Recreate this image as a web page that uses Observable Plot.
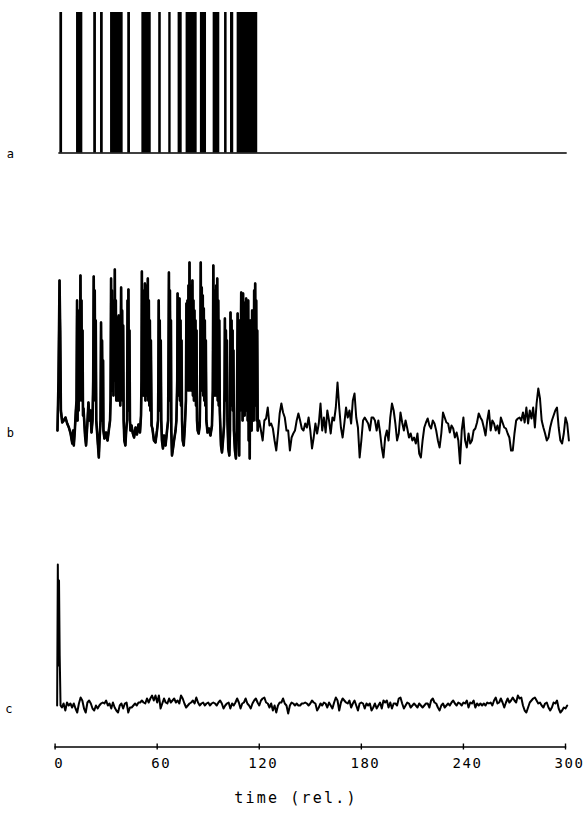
<!DOCTYPE html>
<html>
<head>
<meta charset="utf-8">
<script src="https://cdn.jsdelivr.net/npm/d3@7"></script>
<script src="https://cdn.jsdelivr.net/npm/@observablehq/plot@0.6"></script>
<style>
  html, body { margin: 0; padding: 0; background: #fff; }
  #chart { position: relative; width: 587px; height: 817px; font-family: "DejaVu Sans Mono", monospace; color: #000; }
  #chart svg { display: block; }
  #caption { position: absolute; left: 0; width: 592px; top: 789px; text-align: center; font-size: 15px; letter-spacing: 2.2px; line-height: 18px; }
</style>
</head>
<body>
<div id="chart"><div id="caption">time (rel.)</div></div>
<script>
// ---------- data ----------
const timeTicks = [0, 60, 120, 180, 240, 300];
const panelNames = ["a", "b", "c"];
const xLabel = "time (rel.)";

// panel a: spike train, intervals where the recorder pen is up (bursts)
const recordStart = 2.2, recordEnd = 301;
const burstOn  = [2.8, 12.6, 22.7, 26.7, 32.6, 42.7, 51.0, 60.9, 66.8, 72.3, 77.0, 85.4, 92.9, 99.6, 103.1, 107.0];
const burstOff = [4.4, 16.3, 24.3, 28.3, 40.0, 44.3, 56.5, 62.4, 68.2, 74.7, 83.5, 89.0, 96.8, 101.1, 105.0, 119.1];

// panel b: spiking section (time, amplitude)
const bT = [1.4,2.0,2.6,3.0,3.4,4.2,5.1,6.1,7.1,8.1,9.1,10.1,10.6,11.0,11.6,12.2,
  12.6,12.9,13.2,13.5,13.8,14.2,14.5,14.9,15.2,15.5,15.8,16.1,16.4,
  16.7,17.6,18.2,18.9,19.6,20.2,20.8,21.4,22.0,
  22.4,22.7,23.0,23.3,23.6,23.9,24.2,
  24.6,25.2,25.7,26.1,
  26.7,27.0,27.3,27.6,27.9,28.2,28.4,
  29.0,29.9,30.8,31.7,32.3,
  32.6,32.9,33.1,33.4,33.7,34.0,34.3,34.6,34.9,35.1,35.4,35.7,36.0,36.3,36.6,36.8,37.1,37.4,37.7,38.0,38.3,38.8,39.1,39.4,39.7,40.0,40.3,
  40.7,41.3,41.8,42.3,
  42.6,42.8,43.1,43.4,43.7,44.0,44.3,
  44.9,45.7,46.4,47.3,48.1,49.0,49.9,50.5,
  50.8,51.0,51.3,51.6,51.9,52.2,52.5,52.8,53.1,53.4,53.7,54.0,54.2,54.5,54.8,55.1,55.4,55.7,56.0,56.3,56.7,
  57.2,58.1,59.0,59.9,60.5,
  60.7,60.9,61.2,61.5,61.8,62.1,62.4,
  62.8,63.4,64.0,64.9,65.8,66.4,
  66.6,66.9,67.2,67.5,67.8,68.1,68.3,
  68.7,69.3,69.9,70.8,71.3,
  71.8,72.0,72.2,72.5,72.8,73.1,73.4,73.7,74.0,74.3,74.6,
  75.0,75.6,76.3,
  76.9,77.2,77.5,77.8,78.1,78.4,78.7,79.0,79.3,79.6,79.9,80.2,80.5,80.7,81.0,81.3,81.6,81.9,82.2,82.5,82.8,83.1,83.4,
  83.8,84.4,85.0,
  85.3,85.6,85.9,86.2,86.5,86.8,87.1,87.4,87.7,88.0,88.3,88.6,88.9,
  89.6,90.4,91.3,92.2,
  92.7,93.0,93.3,93.6,93.9,94.1,94.4,94.7,95.0,95.3,95.6,95.9,96.2,96.5,96.8,97.1,
  97.5,98.1,98.7,99.3,
  99.6,99.8,100.1,100.4,100.7,101.0,101.3,
  101.8,102.4,102.8,
  103.1,103.4,103.7,104.0,104.3,104.5,104.8,105.1,
  105.7,106.3,106.8,
  107.3,107.6,107.9,108.2,108.5,108.8,109.4,109.7,110.0,110.2,110.5,110.8,111.1,111.4,111.7,112.0,112.3,112.6,112.9,113.2,113.5,113.8,114.1,114.4,114.7,114.9,115.2,115.5,115.8,116.1,116.4,116.7,117.0,117.3,117.6,117.9,118.2,118.5,118.8,119.1];
const bV = [0,50,150,100,20,8,10,13,7,3,-3,-13,0,-15,0,20,
  30,130,10,120,20,100,30,155,40,130,30,100,15,
  22,-5,-15,5,28,10,20,-2,10,
  50,154,50,140,30,110,10,
  0,-15,-27,-10,
  10,108,20,90,10,70,0,
  -8,-2,-10,2,10,
  30,152,40,140,50,120,35,130,60,161,50,130,30,100,40,113,30,115,35,110,25,143,40,120,30,105,10,
  -10,-15,0,10,
  130,30,141,20,100,10,0,
  5,-3,-7,3,-4,6,-2,15,
  50,159,40,130,35,140,45,147,30,145,35,130,40,152,30,130,25,110,20,90,5,
  2,-10,-12,0,10,
  50,130,30,110,20,90,10,
  -10,-18,-5,-15,0,10,
  50,158,40,140,30,110,0,
  -25,-18,-10,0,10,
  50,137,40,120,35,132,30,110,25,90,10,
  -10,-15,5,
  30,127,40,130,45,145,40,168,50,135,40,145,45,150,35,130,30,120,35,110,25,100,10,
  0,-3,5,
  40,168,50,143,40,135,35,122,30,110,25,90,10,
  -2,2,-5,5,
  40,165,45,140,35,130,40,145,35,152,30,130,25,110,20,5,
  -15,-22,-10,5,
  40,112,35,100,30,90,10,
  -18,-25,0,
  118,30,110,25,100,20,80,0,
  -20,-28,0,
  117,10,100,-25,110,20,138,30,120,10,137,20,128,15,110,25,132,20,125,10,130,-10,110,-28,110,10,90,0,120,20,100,10,140,30,147,25,130,10,100,0];

// panel b: quiet section, one sample per time unit from t = 120
const bNoiseStart = 120;
const bNoise = [10,0,-10,10,12,23,5,7,2,-10,-20,-3,17,27,18,13,0,0,-20,-7,-3,0,10,17,10,2,0,7,3,13,0,-18,-7,7,-3,7,27,0,13,-2,20,10,-3,13,10,23,48,23,3,-7,7,23,13,20,7,30,37,13,3,-27,-10,10,13,10,7,0,13,13,10,0,10,-2,-17,-27,-7,0,-10,13,27,20,7,-10,-3,18,8,0,10,2,-7,-3,-10,-7,-13,-3,-23,-27,-10,3,8,12,5,2,10,7,0,-10,-17,-3,18,13,8,7,-2,5,2,-7,-2,-10,-33,0,13,-10,-17,-3,-13,-10,0,2,8,17,13,10,3,-5,10,20,0,10,7,0,5,-3,13,8,3,2,-3,-7,-20,-20,-3,10,12,13,10,18,8,23,7,20,12,23,3,27,42,32,10,3,-3,-10,-7,3,10,15,20,23,3,-10,-13,-3,13,7,-10];

// panel c: single response at onset, then baseline noise from t = 4
const cHeadT = [1.2, 1.6, 2.0, 2.3, 2.7, 3.2];
const cHeadV = [0, 141, 40, 125, 50, 0];
const cNoiseStart = 4;
const cNoise = [-2,2,-5,3,0,2,-2,2,-3,-7,2,8,5,-3,-7,3,5,2,-3,-5,0,-3,0,2,3,2,5,0,2,-3,3,-2,-5,-7,0,2,-3,2,3,-7,-2,-2,0,2,0,3,3,5,3,2,7,3,7,10,5,10,3,10,-3,2,7,3,2,7,3,5,7,3,5,2,10,7,2,-2,0,2,3,5,2,8,3,0,2,3,0,2,3,0,2,3,2,0,3,5,2,-3,0,2,3,-3,2,0,3,7,3,-3,2,3,7,2,0,-3,2,5,7,3,0,5,7,8,3,2,-2,2,-5,0,-7,0,3,3,7,2,0,-8,0,3,2,0,2,0,0,
  2,2,3,2,0,2,5,3,2,-5,-2,2,0,3,2,-2,3,0,-3,3,8,5,-5,3,7,5,3,2,5,-2,2,5,0,-5,2,3,2,-3,2,0,2,-5,-2,2,-3,0,3,-3,5,3,5,-2,3,-3,2,2,0,7,8,2,-3,0,3,2,-2,0,2,0,-2,2,0,-2,0,2,2,-2,5,7,3,2,-2,-5,0,2,-2,0,2,0,3,5,2,0,3,2,0,3,2,5,-2,3,2,5,-2,2,0,2,0,2,0,3,2,3,0,5,8,2,3,7,3,-2,3,7,3,5,8,5,3,10,7,8,0,-5,-7,-2,3,5,7,8,5,2,3,0,-2,2,3,-2,-5,-2,3,2,5,-3,-7,-5,-2,-3,0];

// ---------- build tables ----------
const aRows = burstOn.map((on, i) => ({on, off: burstOff[i]}));
const bSpikeRows = bT.map((t, i) => ({t, v: bV[i]}));
const bRows = bSpikeRows.concat(bNoise.map((v, i) => ({t: bNoiseStart + i, v})));
const cRows = cHeadT.map((t, i) => ({t, v: cHeadV[i]}))
  .concat(cNoise.map((v, i) => ({t: cNoiseStart + i, v})));

const FONT = "DejaVu Sans Mono";
const base = {
  width: 587,
  marginLeft: 54.6,
  marginRight: 22,
  style: {fontFamily: FONT, background: "white", overflow: "visible"}
};
const panelLabel = (name, dy) => Plot.axisY({
  ticks: [0], tickFormat: () => name, tickSize: 0, tickPadding: 41,
  label: null, fontSize: 12, dy
});

const chart = document.getElementById("chart");

// panel a
chart.appendChild(Plot.plot({
  ...base,
  height: 240, marginTop: 10, marginBottom: 80,
  x: {domain: [0, 300], axis: null},
  y: {domain: [0, 1], range: [152.5, 12]},
  marks: [
    Plot.ruleY([0], {x1: recordStart, x2: recordEnd, stroke: "black", strokeWidth: 1.6}),
    Plot.rect(aRows, {x1: "on", x2: "off", y1: 0, y2: 1, fill: "black"}),
    panelLabel(panelNames[0], 1)
  ]
}));

// panel b
chart.appendChild(Plot.plot({
  ...base,
  height: 280, marginTop: 10, marginBottom: 50,
  x: {domain: [0, 300], axis: null},
  y: {domain: [-30, 170], range: [220, 20]},
  marks: [
    Plot.line(bRows, {x: "t", y: "v", stroke: "black", strokeWidth: 2}),
    Plot.line(bSpikeRows, {x: "t", y: "v", stroke: "black", strokeWidth: 2.6}),
    panelLabel(panelNames[1], 3)
  ]
}));

// panel c + time axis
chart.appendChild(Plot.plot({
  ...base,
  height: 297, marginTop: 20, marginBottom: 70.5,
  style: {...base.style, letterSpacing: "1.5px"},
  x: {domain: [0, 300]},
  y: {domain: [-10, 150], range: [195, 35]},
  marks: [
    Plot.line(cRows, {x: "t", y: "v", stroke: "black", strokeWidth: 2}),
    Plot.frame({anchor: "bottom", stroke: "black", strokeWidth: 1.4}),
    Plot.axisX(timeTicks, {tickSize: 6, dy: -3, strokeWidth: 1.4, tickFormat: () => "", label: null}),
    Plot.axisX(timeTicks, {tickSize: 0, tickPadding: 11, dx: 4, fontSize: 14, label: null}),
    panelLabel(panelNames[2], 4)
  ]
}));

document.getElementById("caption").textContent = xLabel;
</script>
</body>
</html>
